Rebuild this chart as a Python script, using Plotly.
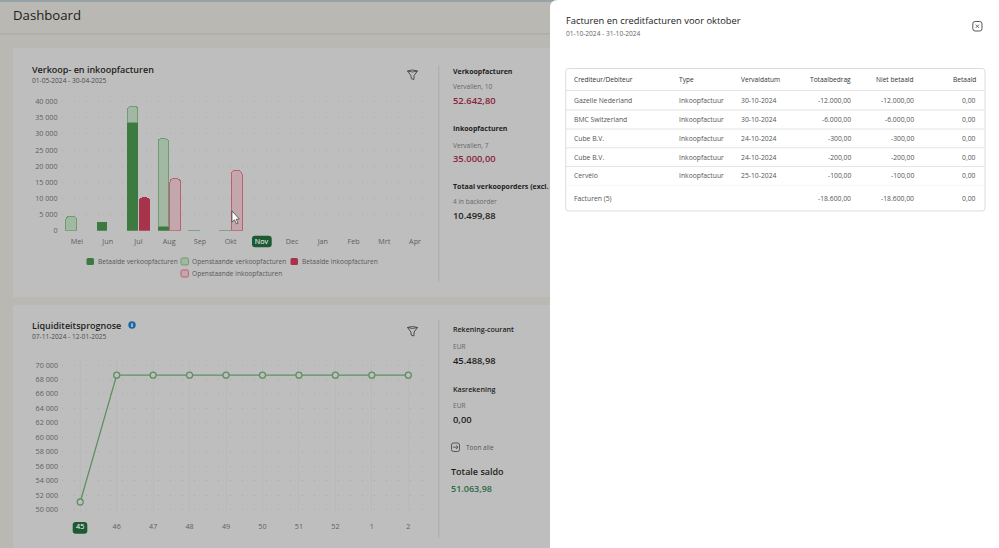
import plotly.graph_objects as go

W = 999
H = 548

# bar chart data
months = ["Mei", "Jun", "Jul", "Aug", "Sep", "Okt", "Nov", "Dec", "Jan", "Feb", "Mrt", "Apr"]
paid_sales = [None, 2800, 33500, 1300, None, None, None, None, None, None, None, None]
open_sales = [4400, None, 5000, 27200, 200, 200, None, None, None, None, None, None]
paid_purchases = [None, None, 10300, None, None, None, None, None, None, None, None, None]
open_purchases = [None, None, None, 16100, None, 18600, None, None, None, None, None, None]
bar_ticks = [0, 5000, 10000, 15000, 20000, 25000, 30000, 35000, 40000]
bar_ticktext = ["0", "5 000", "10 000", "15 000", "20 000", "25 000", "30 000", "35 000", "40 000"]
legend_names = ["Betaalde verkoopfacturen", "Openstaande verkoopfacturen",
                "Betaalde inkoopfacturen", "Openstaande inkoopfacturen"]

# liquidity data
weeks = ["45", "46", "47", "48", "49", "50", "51", "52", "1", "2"]
balance = [51064, 68600, 68600, 68600, 68600, 68600, 68600, 68600, 68600, 68600]
line_ticks = [50000, 52000, 54000, 56000, 58000, 60000, 62000, 64000, 66000, 68000, 70000]
line_ticktext = ["50 000", "52 000", "54 000", "56 000", "58 000", "60 000",
                 "62 000", "64 000", "66 000", "68 000", "70 000"]

# invoice table
table_header = ["Crediteur/Debiteur", "Type", "Vervaldatum", "Totaalbedrag", "Niet betaald", "Betaald"]
creditors = ["Gazelle Nederland", "BMC Switzerland", "Cube B.V.", "Cube B.V.", "Cervélo"]
types = ["Inkoopfactuur"] * 5
due_dates = ["30-10-2024", "30-10-2024", "24-10-2024", "24-10-2024", "25-10-2024"]
totals = ["-12.000,00", "-6.000,00", "-300,00", "-200,00", "-100,00"]
unpaid = ["-12.000,00", "-6.000,00", "-300,00", "-200,00", "-100,00"]
paid = ["0,00", "0,00", "0,00", "0,00", "0,00"]
table_footer = ["Facturen (5)", "", "", "-18.600,00", "-18.600,00", "0,00"]

FONT = "Open Sans"
PAGE = "#b9b8b3"
CARD = "#bebebe"
DARK = "#1e1e20"
MUTED = "#5f5f5f"
GREEN = "#3d7a42"
GREEN_OPEN = "#a3b8a2"
GREEN_EDGE = "#6c9c70"
RED = "#a8344c"
RED_OPEN = "#c4a7ad"
RED_EDGE = "#bc6073"
BADGE = "#1d5a34"


def px(x):
    return x / W


def py(y):
    return 1 - y / H


shapes = []
notes = []


def rect(x0, y0, x1, y1, fill, line=None, lw=1):
    shapes.append(dict(type="rect", xref="paper", yref="paper", layer="below",
                       x0=px(x0), x1=px(x1), y0=py(y0), y1=py(y1), fillcolor=fill,
                       line=dict(color=line, width=lw) if line else dict(width=0)))


def path(points, fill=None, line=None, lw=1, close=True, layer="below"):
    d = ""
    for cmd, *xy in points:
        d += cmd
        d += " ".join(f"{px(xy[i]):.5f},{py(xy[i + 1]):.5f}" for i in range(0, len(xy), 2)) + " "
    if close:
        d += "Z"
    shapes.append(dict(type="path", xref="paper", yref="paper", path=d, layer=layer,
                       fillcolor=fill if fill else "rgba(0,0,0,0)",
                       line=dict(color=line, width=lw) if line else dict(width=0)))


def rrect(x0, y0, x1, y1, r, fill=None, line=None, lw=1):
    path([("M", x0 + r, y0), ("L", x1 - r, y0), ("Q", x1, y0, x1, y0 + r),
          ("L", x1, y1 - r), ("Q", x1, y1, x1 - r, y1), ("L", x0 + r, y1),
          ("Q", x0, y1, x0, y1 - r), ("L", x0, y0 + r), ("Q", x0, y0, x0 + r, y0)],
         fill, line, lw)


def text(x, y, s, size=8, color=MUTED, anchor="left", weight=400):
    # annotations sit about a pixel inside their anchor
    if anchor == "left":
        x -= 1
    notes.append(dict(xref="paper", yref="paper", x=px(x), y=py(y), text=s, showarrow=False,
                      xanchor=anchor, yanchor="middle", borderpad=0,
                      font=dict(family=FONT, size=size, color=color, weight=weight)))


def funnel(cx, cy):
    path([("M", cx - 5, cy - 3.5), ("Q", cx, cy - 5.5, cx + 5, cy - 3.5), ("L", cx + 1.6, cy + 1),
          ("L", cx + 1.4, cy + 5), ("L", cx - 1.2, cy + 4.2), ("L", cx - 1.6, cy + 1)],
         None, "#3f3f3f", 0.9)
    path([("M", cx - 5, cy - 3.5), ("Q", cx, cy - 1.5, cx + 5, cy - 3.5)], None, "#3f3f3f", 0.8, close=False)


# page background
rect(0, 0, W, 2, "#95a2a8")
rect(0, 33, 560, 34.5, "#aeada8")
rect(13, 48, 560, 297, CARD)
rect(13, 305, 560, H, CARD)
rect(438, 65, 439.5, 282, "#b2b2b2")
rect(438, 320, 439.5, 538, "#b2b2b2")

# headings
text(13, 15, "Dashboard", 13.2, DARK, weight=500)
text(32, 69, "Verkoop- en inkoopfacturen", 9, DARK, weight=600)
text(32, 80.5, "01-05-2024 - 30-04-2025", 6.6, "#4d4d4d")
text(32, 325.5, "Liquiditeitsprognose", 9, DARK, weight=600)
text(32, 336.5, "07-11-2024 - 12-01-2025", 6.6, "#4d4d4d")
funnel(412.5, 74.5)
funnel(412.5, 331)
path([("M", 128.3, 325), ("Q", 128.3, 321.3, 132, 321.3), ("Q", 135.7, 321.3, 135.7, 325),
      ("Q", 135.7, 328.7, 132, 328.7), ("Q", 128.3, 328.7, 128.3, 325)], "#1b66a3")
text(132, 325, "i", 6, "#ffffff", "center", 700)

# badges behind the highlighted ticks
rrect(252, 235.7, 271.7, 247.3, 3, BADGE)
rrect(72.7, 522, 87.3, 533.7, 3, BADGE)

# custom legend, wraps like the original
for name, fill, edge, x, y in [(legend_names[0], GREEN, None, 86.5, 261.5),
                               (legend_names[1], GREEN_OPEN, GREEN_EDGE, 181, 261.5),
                               (legend_names[2], RED, None, 290.5, 261.5),
                               (legend_names[3], RED_OPEN, RED_EDGE, 181, 273.5)]:
    rrect(x, y - 3.5, x + 7.5, y + 3.5, 1.5, fill, edge, 1)
    text(x + 11, y, name, 6.6, "#585858")

# side figures chart 1
text(453, 71.5, "Verkoopfacturen", 7, DARK, weight=700)
text(453, 87, "Vervallen, 10", 6.6, "#666666")
text(453, 101, "52.642,80", 9.4, "#8c2239", weight=600)
text(453, 128.5, "Inkoopfacturen", 7, DARK, weight=700)
text(453, 145, "Vervallen, 7", 6.6, "#666666")
text(453, 158.5, "35.000,00", 9.4, "#8c2239", weight=600)
text(453, 186, "Totaal verkooporders (excl.", 7, DARK, weight=700)
text(453, 201.5, "4 in backorder", 6.5, "#666666")
text(453, 215.5, "10.499,88", 9.4, DARK, weight=600)

# side figures chart 2
text(453, 329, "Rekening-courant", 7.1, DARK, weight=600)
text(453, 346, "EUR", 6.6, "#666666")
text(453, 360, "45.488,98", 9.4, DARK, weight=600)
text(453, 388.5, "Kasrekening", 7.1, DARK, weight=600)
text(453, 405, "EUR", 6.6, "#666666")
text(453, 419, "0,00", 9.4, DARK, weight=600)
rrect(451.5, 443, 459.5, 451.5, 2, None, "#4a4a4a", 0.9)
path([("M", 453, 447.2), ("L", 458, 447.2), ("M", 456, 445.4), ("L", 458, 447.2), ("L", 456, 449)],
     None, "#4a4a4a", 0.8, close=False)
text(466, 447.7, "Toon alle", 6.5, "#555555")
text(451, 471, "Totale saldo", 9, DARK, weight=600)
text(451, 488.5, "51.063,98", 9, "#2c6b47", weight=600)

# mouse cursor sits over the bars
path([("M", 232, 211), ("L", 232, 222), ("L", 234.5, 219.8), ("L", 236.5, 224), ("L", 238, 223.2),
      ("L", 236.2, 219.3), ("L", 239.3, 219)], "#ffffff", "#333333", 0.7, layer="above")

# side panel, above the charts
panel_start = len(shapes)
path([("M", 550, H), ("L", 550, 8), ("Q", 550, 0, 558, 0), ("L", W, 0), ("L", W, H)], "#ffffff")
text(565.5, 20.5, "Facturen en creditfacturen voor oktober", 9.35, "#222222", weight=500)
text(565.5, 33, "01-10-2024 - 31-10-2024", 6.6, "#666666")
rrect(972.8, 21.5, 982, 31, 2.3, None, "#444444", 0.9)
path([("M", 975.8, 24.6), ("L", 979, 27.9), ("M", 979, 24.6), ("L", 975.8, 27.9)], None, "#444444", 0.8, close=False)

# table
rrect(565.7, 68.5, 985, 211, 3, "#ffffff", "#dcdcdc", 1)
col_x = [574, 678.5, 741, 851.5, 914.5, 976.5]
col_anchor = ["left", "left", "left", "right", "right", "right"]
row_y = [100.3, 119.3, 138, 157, 175.5]
for y in [90.5, 110, 129, 147.7, 166.5]:
    rect(566, y - 0.5, 984.5, y + 0.5, "#e4e4e4")
rect(566, 185.5, 984.5, 186, "#f0f0f0")
for s in shapes[panel_start:]:
    s["layer"] = "above"
for c in range(6):
    text(col_x[c], 79.7, table_header[c], 6.6, "#333333", col_anchor[c], 500)
rows = list(zip(creditors, types, due_dates, totals, unpaid, paid))
for y, row in zip(row_y, rows):
    for c in range(6):
        text(col_x[c], y, row[c], 6.8, "#555555", col_anchor[c])
for c in range(6):
    if table_footer[c]:
        text(col_x[c] - (0.5 if c == 0 else 0), 198, table_footer[c], 6.8, "#555555", col_anchor[c])

fig = go.Figure()

bar_common = dict(x=months, xaxis="x", yaxis="y", width=0.345, offset=-0.36)
fig.add_trace(go.Bar(y=paid_sales, name=legend_names[0], marker=dict(color=GREEN, line=dict(width=0)), **bar_common))
fig.add_trace(go.Bar(y=open_sales, name=legend_names[1],
                     marker=dict(color=GREEN_OPEN, line=dict(color=GREEN_EDGE, width=1)), **bar_common))
bar_common = dict(x=months, xaxis="x3", yaxis="y3", width=0.345, offset=0.025)
fig.add_trace(go.Bar(y=paid_purchases, name=legend_names[2], marker=dict(color=RED, line=dict(width=0)), **bar_common))
fig.add_trace(go.Bar(y=open_purchases, name=legend_names[3],
                     marker=dict(color=RED_OPEN, line=dict(color=RED_EDGE, width=1)), **bar_common))

fig.add_trace(go.Scatter(x=weeks, y=balance, mode="lines+markers", xaxis="x2", yaxis="y2",
                         line=dict(color="#5f9061", width=1.3),
                         marker=dict(size=6, color=CARD, line=dict(color="#5f9061", width=1.3))))

tick_font = dict(family=FONT, size=7.2, color="#606060")
dots = dict(showgrid=True, gridcolor="#a9a9a9", griddash="1px,11px", gridwidth=1)
bar_xtext = [f'<span style="color:#ffffff">{m}</span>' if m == "Nov" else m for m in months]
line_xtext = [f'<span style="color:#ffffff">{w}</span>' if w == "45" else w for w in weeks]

bar_dom = [px(61.6), px(430.4)]
bar_ydom = [py(230.7), py(94)]
fig.update_layout(
    width=W, height=H, margin=dict(l=0, r=0, t=0, b=0, autoexpand=False), autosize=False,
    paper_bgcolor=PAGE, plot_bgcolor="rgba(0,0,0,0)", showlegend=False,
    barmode="stack", barcornerradius=3.5,
    shapes=shapes, annotations=notes,
    xaxis=dict(domain=bar_dom, anchor="y", type="category", categoryorder="array",
               categoryarray=months, range=[-0.5, 11.5], tickmode="array", tickvals=months,
               ticktext=bar_xtext, showgrid=False, showline=False, ticks="", zeroline=False,
               tickfont=tick_font, ticklabelstandoff=5),
    yaxis=dict(domain=bar_ydom, anchor="x", range=[0, 42388], tickmode="array",
               tickvals=bar_ticks, ticktext=bar_ticktext, zeroline=False, showline=False, ticks="",
               tickfont=tick_font, ticklabelstandoff=3, **dots),
    xaxis3=dict(overlaying="x", anchor="y3", visible=False, type="category", categoryorder="array",
                categoryarray=months, range=[-0.5, 11.5]),
    yaxis3=dict(overlaying="y", anchor="x3", visible=False, range=[0, 42388]),
    xaxis2=dict(domain=[px(62), px(426.5)], anchor="y2", type="category", categoryorder="array",
                categoryarray=weeks, range=[-0.5, 9.5], tickmode="array", tickvals=weeks,
                ticktext=line_xtext, showgrid=True, gridcolor="#b9b9b9", gridwidth=1, showline=False,
                ticks="", zeroline=False, tickfont=tick_font, ticklabelstandoff=8),
    yaxis2=dict(domain=[py(513), py(358)], anchor="x2", range=[49544, 70967], tickmode="array",
                tickvals=line_ticks, ticktext=line_ticktext, zeroline=False, showline=False, ticks="",
                tickfont=tick_font, ticklabelstandoff=3, **dots),
)

# the page's default body margin would shift the whole picture
fig.write_html("out.html", config={"displayModeBar": False}, post_script="document.body.style.margin='0';")
